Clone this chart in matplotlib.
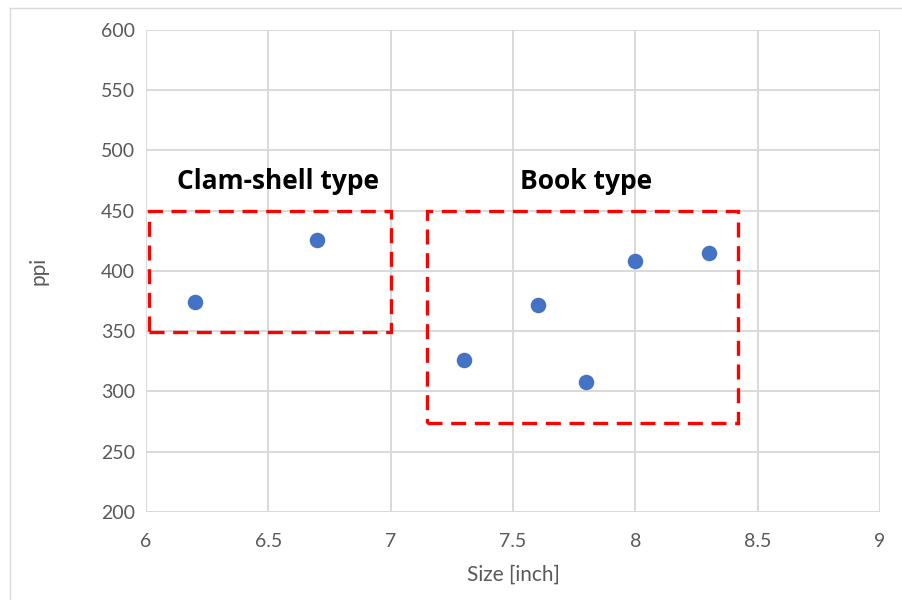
import matplotlib
matplotlib.use('Agg')
import matplotlib.pyplot as plt
from matplotlib.patches import Rectangle
from matplotlib.lines import Line2D

plt.rcParams['font.family'] = ['Lato', 'DejaVu Sans']

# data
size_inch = [6.2, 6.7, 7.3, 7.6, 7.8, 8.0, 8.3]
ppi = [374, 426, 326, 372, 308, 408, 415]

# group boxes: (x0, x1, y0, y1) and label
groups = ['Clam-shell type', 'Book type']
box_x = [(6.01, 7.0), (7.15, 8.42)]
box_y = [(349, 450), (274, 450)]
label_pos = [(6.54, 474), (7.80, 474)]

xticks = [6, 6.5, 7, 7.5, 8, 8.5, 9]
yticks = [200, 250, 300, 350, 400, 450, 500, 550, 600]

fig = plt.figure(figsize=(9.02, 6.0), dpi=100)
ax = fig.add_axes([0.162, 0.1467, 0.8136, 0.8033])

grid_c = '#d9d9d9'
text_c = '#595959'

ax.scatter(size_inch, ppi, s=125, color='#4472C4', zorder=3, linewidths=0)

for (x0, x1), (y0, y1) in zip(box_x, box_y):
    r = Rectangle((x0, y0), x1 - x0, y1 - y0, fill=False, edgecolor='#ff0000',
                  linewidth=2.4, linestyle=(0, (4.5, 2.6)), zorder=4)
    ax.add_patch(r)

for name, (lx, ly) in zip(groups, label_pos):
    ax.text(lx, ly, name, ha='center', va='center', fontsize=19,
            fontweight='bold', color='black', zorder=5,
            family=['Open Sans', 'DejaVu Sans'])

ax.set_xlim(6, 9)
ax.set_ylim(200, 600)
ax.set_xticks(xticks)
ax.set_xticklabels(['6', '6.5', '7', '7.5', '8', '8.5', '9'])
ax.set_yticks(yticks)
ax.grid(True, color=grid_c, linewidth=1.4, zorder=0)
ax.set_axisbelow(True)
for s in ax.spines.values():
    s.set_visible(False)
ax.tick_params(length=0, colors=text_c, labelsize=14)
ax.tick_params(axis='x', pad=15)
ax.tick_params(axis='y', pad=8)

ax.set_xlabel('Size [inch]', fontsize=15, color=text_c, labelpad=11)
ax.set_ylabel('ppi', fontsize=15, color=text_c, labelpad=38)

# chart area border (partly visible)
fig.add_artist(Line2D([10 / 902, 1.0], [1 - 8 / 600, 1 - 8 / 600],
                      transform=fig.transFigure, color=grid_c, linewidth=1))
fig.add_artist(Line2D([10 / 902, 10 / 902], [0, 1 - 8 / 600],
                      transform=fig.transFigure, color=grid_c, linewidth=1))

fig.savefig('out.png', dpi=100)
